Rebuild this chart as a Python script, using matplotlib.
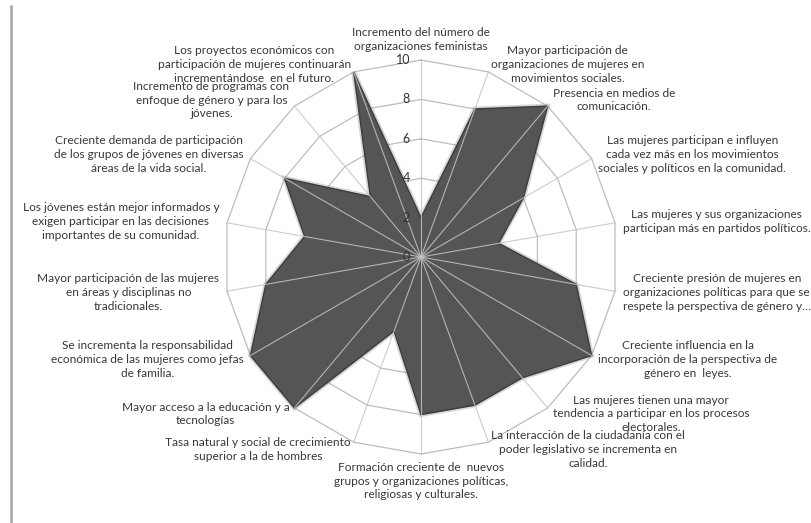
import numpy as np
import matplotlib
matplotlib.use('Agg')
import matplotlib.pyplot as plt
from matplotlib.lines import Line2D
from matplotlib.transforms import offset_copy

plt.rcParams['font.family'] = ['Lato', 'DejaVu Sans']

categorias = [
    'Incremento del número de\norganizaciones feministas',
    'Mayor participación de\norganizaciones de mujeres en\nmovimientos sociales.',
    'Presencia en medios de\ncomunicación.',
    'Las mujeres participan e influyen\ncada vez más en los movimientos\nsociales y políticos en la comunidad.',
    'Las mujeres y sus organizaciones\nparticipan más en partidos políticos.',
    'Creciente presión de mujeres en\norganizaciones políticas para que se\nrespete la perspectiva de género y…',
    'Creciente influencia en la\nincorporación de la perspectiva de\ngénero en  leyes.',
    'Las mujeres tienen una mayor\ntendencia a participar en los procesos\nelectorales.',
    'La interacción de la ciudadanía con el\npoder legislativo se incrementa en\ncalidad.',
    'Formación creciente de  nuevos\ngrupos y organizaciones políticas,\nreligiosas y culturales.',
    'Tasa natural y social de crecimiento\nsuperior a la de hombres',
    'Mayor acceso a la educación y a\ntecnologías',
    'Se incrementa la responsabilidad\neconómica de las mujeres como jefas\nde familia.',
    'Mayor participación de las mujeres\nen áreas y disciplinas no\ntradicionales.',
    'Los jóvenes están mejor informados y\nexigen participar en las decisiones\nimportantes de su comunidad.',
    'Creciente demanda de participación\nde los grupos de jóvenes en diversas\náreas de la vida social.',
    'Incremento de programas con\nenfoque de género y para los\njóvenes.',
    'Los proyectos económicos con\nparticipación de mujeres continuarán\nincrementándose  en el futuro.',
]
valores = [2, 8, 10, 6, 4, 8, 10, 8, 8, 8, 4, 10, 10, 8, 6, 8, 4, 10]
niveles = [0, 2, 4, 6, 8, 10]

n = len(categorias)
angulos = np.linspace(0, 2 * np.pi, n, endpoint=False)


def cerrar(a):
    a = list(a)
    return a + a[:1]


fig = plt.figure(figsize=(8.12, 5.23), dpi=100)
ax = fig.add_axes([0.2759, 0.1319, 0.4852, 0.7533], projection='polar')
ax.set_theta_zero_location('N')
ax.set_theta_direction(-1)
ax.set_ylim(0, 10)
ax.grid(False)
ax.set_xticks([])
ax.set_yticks([])
ax.spines['polar'].set_visible(False)
ax.patch.set_visible(False)

# anillos poligonales
for r in niveles[1:]:
    ax.plot(cerrar(angulos), [r] * (n + 1), color='#bdbdbd', lw=0.9, zorder=1, clip_on=False)

# sombra + relleno
ax.plot(cerrar(angulos), cerrar(valores), color='#8c8c8c', lw=3.5, alpha=0.35, zorder=2,
        solid_joinstyle='miter', clip_on=False)
ax.fill(cerrar(angulos), cerrar(valores), facecolor='#555555', edgecolor='#3c3c3c', lw=1,
        zorder=3, joinstyle='miter', clip_on=False)

# radios
for a in angulos:
    ax.plot([a, a], [0, 10], color='#c4c4c4', lw=0.8, alpha=0.85, zorder=4, clip_on=False)

# etiquetas del eje radial
trans = offset_copy(ax.transData, fig=fig, x=-11, y=0, units='dots')
for r in niveles:
    ax.text(0, r, str(r), transform=trans, ha='right', va='center', fontsize=9,
            color='#333333', zorder=5)

# etiquetas de categorias
for a, lab in zip(angulos, categorias):
    s, c = np.sin(a), np.cos(a)
    if abs(s) < 0.01:
        ha = 'center'
        va = 'bottom' if c > 0 else 'top'
    elif s > 0:
        ha, va = 'left', 'center'
    else:
        ha, va = 'right', 'center'
    ax.text(a, 10.4, lab, ha=ha, va=va, multialignment='center', fontsize=8.6,
            color='#383838', linespacing=1.3, zorder=5)

fig.add_artist(Line2D([0.0135, 0.0135], [0, 0.989], transform=fig.transFigure,
                      color='#a6a6a6', lw=1.8))

fig.savefig('out.png', dpi=100)
